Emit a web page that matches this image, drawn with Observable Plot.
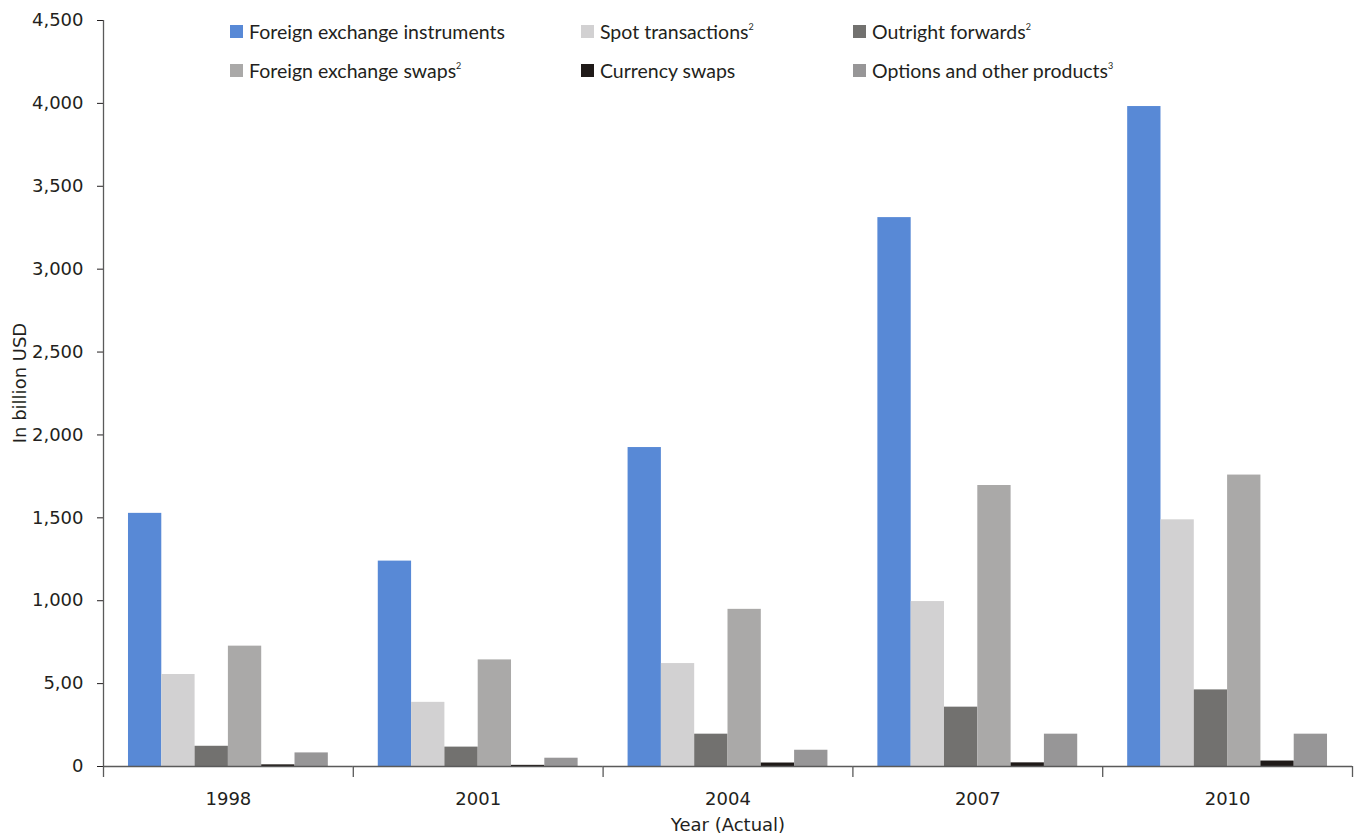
<!DOCTYPE html>
<html>
<head>
<meta charset="utf-8">
<script src="https://cdn.jsdelivr.net/npm/d3@7"></script>
<script src="https://cdn.jsdelivr.net/npm/@observablehq/plot@0.6"></script>
<style>
  body { margin: 0; background: #fff; }
  #wrap { position: relative; width: 1354px; height: 835px; }
  #wrap svg text { font-family: "DejaVu Sans", sans-serif !important; }
  .legend { position: absolute; left: 0; top: 0; font-family: Lato, "Open Sans", sans-serif; font-size: 19.5px; color: #231f20; }
  .item { position: absolute; display: flex; align-items: center; white-space: nowrap; height: 20px; }
  .sw { width: 13px; height: 13px; margin-right: 6px; flex: none; }
  .item sup { font-size: 9px; vertical-align: 9px; line-height: 0; }
  .ylab { position: absolute; left: 20px; top: 383px; transform: translate(-50%, -50%) rotate(-90deg);
          font-family: "DejaVu Sans", sans-serif; font-size: 18px; color: #231f20; white-space: nowrap; line-height: 1; }
</style>
</head>
<body>
<div id="wrap"></div>
<script>
// ---- data ----
const years = ["1998", "2001", "2004", "2007", "2010"];
const seriesNames = [
  "Foreign exchange instruments",
  "Spot transactions",
  "Outright forwards",
  "Foreign exchange swaps",
  "Currency swaps",
  "Options and other products"
];
const seriesSup = ["", "2", "2", "2", "", "3"];
const fxInstruments = [1527, 1239, 1924, 3311, 3981];
const spotTransactions = [555, 387, 621, 995, 1488];
const outrightForwards = [122, 117, 195, 358, 462];
const fxSwaps = [726, 643, 948, 1695, 1758];
const currencySwaps = [10, 7, 21, 22, 33];
const optionsOther = [82, 50, 98, 195, 195];
const yTicks = [0, 500, 1000, 1500, 2000, 2500, 3000, 3500, 4000, 4500];
const yTickLabels = ["0", "5,00", "1,000", "1,500", "2,000", "2,500", "3,000", "3,500", "4,000", "4,500"];
const yLabel = "In billion USD";
const xLabel = "Year (Actual)";
const colors = ["#5889d6", "#d2d1d2", "#72716f", "#aaa9a8", "#1f1a18", "#979697"];

// ---- table ----
const seriesValues = [fxInstruments, spotTransactions, outrightForwards, fxSwaps, currencySwaps, optionsOther];
const table = [];
years.forEach((yr, i) => seriesNames.forEach((s, j) => table.push({year: yr, series: s, value: seriesValues[j][i]})));

// ---- layout ----
const W = 1354, H = 835, mL = 103, mR = 2, mT = 20, mB = 69;
const step = (W - mL - mR) / years.length;
const xPadOuter = 0.75;
const barStep = step / (seriesNames.length + 2 * xPadOuter);
const sepOffset = barStep / 2 + xPadOuter * barStep;
const axisColor = "#5a5a5a";

const chart = Plot.plot({
  width: W, height: H,
  marginLeft: mL, marginRight: mR, marginTop: mT, marginBottom: mB,
  style: {fontFamily: "'DejaVu Sans', sans-serif", fontSize: "18px", color: "#231f20", background: "white"},
  fx: {domain: years, padding: 0, round: false, label: xLabel, labelAnchor: "center", labelOffset: 64, labelArrow: "none", tickSize: 0, tickPadding: 26},
  x: {domain: seriesNames, paddingInner: 0, paddingOuter: xPadOuter, round: false, axis: null},
  y: {domain: [0, 4500], ticks: yTicks, tickFormat: d => yTickLabels[yTicks.indexOf(d)], tickSize: 6, tickPadding: 14, label: null},
  color: {domain: seriesNames, range: colors},
  marks: [
    Plot.barY(table, {fx: "year", x: "series", y: "value", fill: "series"}),
    Plot.ruleY([0], {stroke: axisColor, strokeWidth: 1.3}),
    Plot.ruleX(years, {fx: d => d, x: () => seriesNames[0], y1: 0, y2: 0, insetBottom: -11, dx: -sepOffset, stroke: axisColor, strokeWidth: 1.3}),
    Plot.ruleX([years[years.length - 1]], {fx: d => d, x: () => seriesNames[seriesNames.length - 1], y1: 0, y2: 0, insetBottom: -11, dx: sepOffset, stroke: axisColor, strokeWidth: 1.3}),
    Plot.ruleX([years[0]], {fx: d => d, x: () => seriesNames[0], y1: 0, y2: 4500, dx: -sepOffset, stroke: axisColor, strokeWidth: 1.3})
  ]
});

const wrap = document.getElementById("wrap");
wrap.appendChild(chart);

// ---- y axis label ----
const yl = document.createElement("div");
yl.className = "ylab";
yl.textContent = yLabel;
wrap.appendChild(yl);

// ---- legend (HTML overlay inside plot area) ----
const legend = document.createElement("div");
legend.className = "legend";
const colX = [230, 581, 853];
const rowY = [21, 60];
seriesNames.forEach((name, idx) => {
  const item = document.createElement("div");
  item.className = "item";
  item.style.left = colX[idx % 3] + "px";
  item.style.top = rowY[Math.floor(idx / 3)] + "px";
  const sw = document.createElement("span");
  sw.className = "sw";
  sw.style.background = colors[idx];
  item.appendChild(sw);
  const t = document.createElement("span");
  t.textContent = name;
  if (seriesSup[idx]) {
    const sup = document.createElement("sup");
    sup.textContent = seriesSup[idx];
    t.appendChild(sup);
  }
  item.appendChild(t);
  legend.appendChild(item);
});
wrap.appendChild(legend);
</script>
</body>
</html>
